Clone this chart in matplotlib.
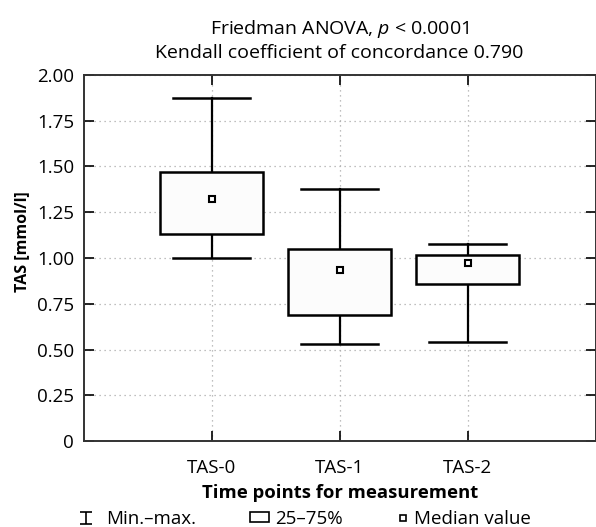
import matplotlib.pyplot as plt
from matplotlib.lines import Line2D
from matplotlib.patches import Rectangle, Patch
from matplotlib.path import Path

plt.rcParams["font.family"] = ["Open Sans", "DejaVu Sans"]
plt.rcParams["mathtext.fontset"] = "custom"
plt.rcParams["mathtext.it"] = "Open Sans:italic"
plt.rcParams["font.size"] = 13

# data
groups = ["TAS-0", "TAS-1", "TAS-2"]
mins = [1.00, 0.53, 0.54]
q1 = [1.13, 0.69, 0.86]
medians = [1.32, 0.935, 0.97]
q3 = [1.47, 1.05, 1.015]
maxs = [1.875, 1.375, 1.075]
yticks = [0, 0.25, 0.5, 0.75, 1.0, 1.25, 1.5, 1.75, 2.0]
ytick_labels = ["0", "0.25", "0.50", "0.75", "1.00", "1.25", "1.50", "1.75", "2.00"]

fig = plt.figure(figsize=(5.96, 5.27), dpi=100)
ax = fig.add_axes([0.1404, 0.1626, 0.859, 0.6957])

box_w = 0.8
cap_w = 0.6
for i, g in enumerate(groups):
    x = i + 1
    # whiskers
    ax.plot([x, x], [mins[i], q1[i]], color="black", lw=1.6, zorder=3)
    ax.plot([x, x], [q3[i], maxs[i]], color="black", lw=1.6, zorder=3)
    ax.plot([x - cap_w / 2, x + cap_w / 2], [mins[i], mins[i]], color="black", lw=1.8, zorder=3)
    ax.plot([x - cap_w / 2, x + cap_w / 2], [maxs[i], maxs[i]], color="black", lw=1.8, zorder=3)
    ax.add_patch(Rectangle((x - box_w / 2, q1[i]), box_w, q3[i] - q1[i],
                           facecolor="#fcfcfc", edgecolor="black", lw=1.8, zorder=4))
    ax.plot([x], [medians[i]], marker="s", markersize=5, markerfacecolor="white",
            markeredgecolor="black", markeredgewidth=1.5, zorder=5)

ax.set_xlim(0, 4)
ax.set_ylim(0, 2)
ax.set_xticks([1, 2, 3])
ax.set_xticklabels(groups)
ax.set_yticks(yticks)
ax.set_yticklabels(ytick_labels)
ax.grid(True, linestyle=(0, (1, 3)), color="#aaaaaa", lw=0.9)
ax.set_axisbelow(True)
ax.tick_params(direction="in", length=7, width=1.2, top=True, right=True,
               labelsize=13.5)
ax.tick_params(axis="x", pad=13)
ax.tick_params(axis="y", pad=7)
for s in ax.spines.values():
    s.set_linewidth(1.4)
    s.set_color("#333333")

ax.set_xlabel("Time points for measurement", fontweight="bold", fontsize=13.3,
              labelpad=5)
ax.set_ylabel("TAS [mmol/l]", fontweight="bold", fontsize=11.5, labelpad=4)
ax.yaxis.set_label_coords(-0.105, 0.545)
ax.set_title("Friedman ANOVA, $p$ < 0.0001\nKendall coefficient of concordance 0.790",
             fontsize=14, pad=12, linespacing=1.3)

# legend: three separate entries so each can sit where it does in the original
ibeam = Path([(-1, 1), (1, 1), (0, 1), (0, -1), (-1, -1), (1, -1)],
             [Path.MOVETO, Path.LINETO, Path.MOVETO, Path.LINETO, Path.MOVETO, Path.LINETO])
h_range = Line2D([], [], linestyle="none", marker=ibeam, markersize=8,
                 markerfacecolor="none", markeredgecolor="black", markeredgewidth=1.2)
h_box = Patch(facecolor="white", edgecolor="black", lw=1.2)
h_med = Line2D([], [], linestyle="none", marker="s", markersize=4,
               markerfacecolor="white", markeredgecolor="black", markeredgewidth=1.2)
leg_kw = dict(loc="lower left", frameon=False, fontsize=13.5, handleheight=0.5,
              borderpad=0.3)
fig.legend([h_range], ["Min.\u2013max."], bbox_to_anchor=(0.1034, -0.03),
           handlelength=1.0, handletextpad=0.55, **leg_kw)
fig.legend([h_box], ["25\u201375%"], bbox_to_anchor=(0.3943, -0.03),
           handlelength=1.0, handletextpad=0.33, **leg_kw)
fig.legend([h_med], ["Median value"], bbox_to_anchor=(0.6431, -0.03),
           handlelength=0.5, handletextpad=0.34, **leg_kw)

fig.savefig("out.png", dpi=100)
